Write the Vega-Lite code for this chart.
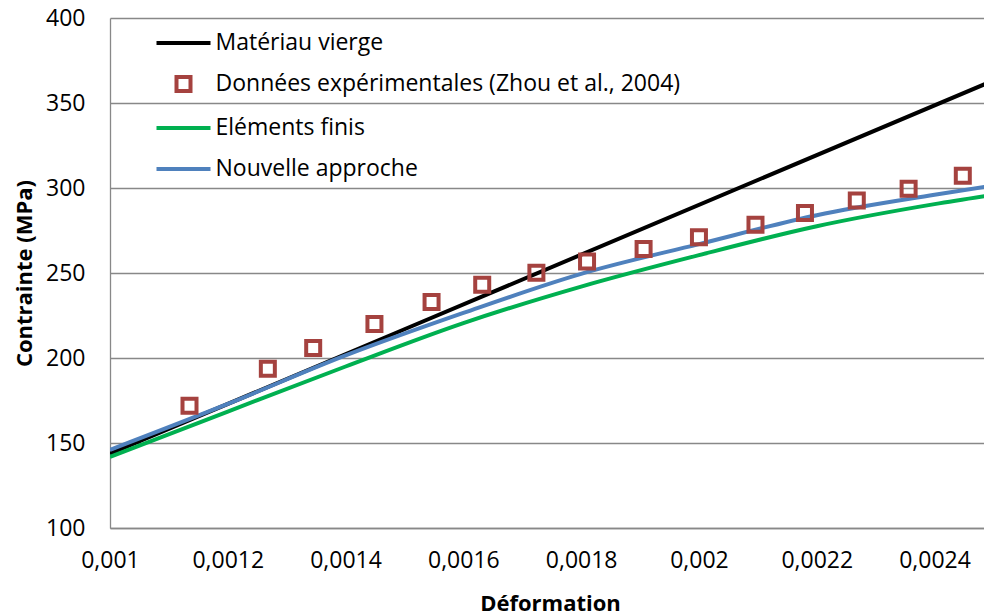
{
  "$schema": "https://vega.github.io/schema/vega-lite/v6.json",
  "width": 874,
  "height": 510,
  "autosize": "none",
  "padding": {"left": 110, "top": 18, "right": 0, "bottom": 88},
  "background": "white",
  "config": {
    "view": {"stroke": null},
    "font": "Open Sans"
  },
  "datasets": {
    "curves": [
      {"series": "Matériau vierge", "x": 0.001, "y": 143.7},
      {"series": "Matériau vierge", "x": 0.0015, "y": 216.9},
      {"series": "Matériau vierge", "x": 0.0025, "y": 363.2},
      {"series": "Eléments finis", "x": 0.001, "y": 141.8},
      {"series": "Eléments finis", "x": 0.0012, "y": 168.5},
      {"series": "Eléments finis", "x": 0.0014, "y": 195.0},
      {"series": "Eléments finis", "x": 0.0016, "y": 220.5},
      {"series": "Eléments finis", "x": 0.0018, "y": 242.0},
      {"series": "Eléments finis", "x": 0.002, "y": 260.5},
      {"series": "Eléments finis", "x": 0.0022, "y": 277.5},
      {"series": "Eléments finis", "x": 0.0024, "y": 290.5},
      {"series": "Eléments finis", "x": 0.0025, "y": 296.0},
      {"series": "Nouvelle approche", "x": 0.001, "y": 146.0},
      {"series": "Nouvelle approche", "x": 0.0012, "y": 173.0},
      {"series": "Nouvelle approche", "x": 0.0014, "y": 201.5},
      {"series": "Nouvelle approche", "x": 0.0016, "y": 226.5},
      {"series": "Nouvelle approche", "x": 0.0018, "y": 249.5},
      {"series": "Nouvelle approche", "x": 0.002, "y": 267.0},
      {"series": "Nouvelle approche", "x": 0.0022, "y": 284.0},
      {"series": "Nouvelle approche", "x": 0.0024, "y": 296.0},
      {"series": "Nouvelle approche", "x": 0.0025, "y": 301.5}
    ],
    "points": [
      {"series": "Données expérimentales (Zhou et al., 2004)", "x": 0.001135, "y": 171.9},
      {"series": "Données expérimentales (Zhou et al., 2004)", "x": 0.001268, "y": 193.7},
      {"series": "Données expérimentales (Zhou et al., 2004)", "x": 0.001345, "y": 205.9},
      {"series": "Données expérimentales (Zhou et al., 2004)", "x": 0.001449, "y": 220.0},
      {"series": "Données expérimentales (Zhou et al., 2004)", "x": 0.001546, "y": 233.0},
      {"series": "Données expérimentales (Zhou et al., 2004)", "x": 0.001632, "y": 243.1},
      {"series": "Données expérimentales (Zhou et al., 2004)", "x": 0.001724, "y": 250.2},
      {"series": "Données expérimentales (Zhou et al., 2004)", "x": 0.00181, "y": 256.8},
      {"series": "Données expérimentales (Zhou et al., 2004)", "x": 0.001906, "y": 264.1},
      {"series": "Données expérimentales (Zhou et al., 2004)", "x": 0.002, "y": 271.0},
      {"series": "Données expérimentales (Zhou et al., 2004)", "x": 0.002096, "y": 278.4},
      {"series": "Données expérimentales (Zhou et al., 2004)", "x": 0.00218, "y": 285.3},
      {"series": "Données expérimentales (Zhou et al., 2004)", "x": 0.002268, "y": 292.6},
      {"series": "Données expérimentales (Zhou et al., 2004)", "x": 0.002356, "y": 299.6},
      {"series": "Données expérimentales (Zhou et al., 2004)", "x": 0.002448, "y": 307.2}
    ]
  },
  "encoding": {
    "x": {
      "field": "x", "type": "quantitative",
      "scale": {"domain": [0.001, 0.002484], "nice": false, "zero": false},
      "axis": {
        "title": "Déformation",
        "values": [0.001, 0.0012, 0.0014, 0.0016, 0.0018, 0.002, 0.0022, 0.0024],
        "labelExpr": "replace(format(datum.value, '~g'), '.', ',')",
        "grid": false, "ticks": false,
        "domainColor": "#888888", "domainWidth": 1.3,
        "labelFontSize": 23, "labelColor": "#000000", "labelPadding": 21,
        "labelFont": "Open Sans", "labelOverlap": false, "labelFlush": false, "labelBound": false,
        "titleFontSize": 22, "titleFontWeight": "bold", "titleColor": "#000000",
        "titlePadding": 21, "titleFont": "Open Sans",
        "titleX": 440
      }
    },
    "y": {
      "field": "y", "type": "quantitative",
      "scale": {"domain": [100, 400], "nice": false, "zero": false},
      "axis": {
        "title": "Contrainte (MPa)",
        "values": [100, 150, 200, 250, 300, 350, 400],
        "grid": true, "gridColor": "#888888", "gridWidth": 1.3,
        "ticks": false,
        "domainColor": "#888888", "domainWidth": 1.3,
        "labelFontSize": 23, "labelColor": "#000000", "labelPadding": 25,
        "labelFont": "Open Sans", "labelFlush": false,
        "titleFontSize": 22, "titleFontWeight": "bold", "titleColor": "#000000",
        "titlePadding": 9, "titleFont": "Open Sans"
      }
    },
    "color": {
      "field": "series", "type": "nominal",
      "scale": {
        "domain": ["Matériau vierge", "Données expérimentales (Zhou et al., 2004)", "Eléments finis", "Nouvelle approche"],
        "range": ["#000000", "#a5423f", "#00b050", "#4f81bd"]
      },
      "legend": {
        "title": null,
        "orient": "none",
        "legendX": 44.5,
        "legendY": -4,
        "padding": 0,
        "labelFontSize": 23,
        "labelFont": "Open Sans",
        "labelColor": "#000000",
        "labelOffset": 3,
        "labelLimit": 1000,
        "rowPadding": 0,
        "symbolStrokeWidth": 4,
        "encode": {
          "symbols": {
            "update": {
              "shape": {"signal": "datum.value === 'Données expérimentales (Zhou et al., 2004)' ? 'square' : 'stroke'"},
              "size": {"signal": "datum.value === 'Données expérimentales (Zhou et al., 2004)' ? 196 : 2916"},
              "strokeWidth": {"value": 4},
              "fill": {"value": "transparent"},
              "stroke": {"scale": "color", "field": "value"},
              "opacity": {"value": 1}
            }
          }
        }
      }
    }
  },
  "layer": [
    {
      "data": {"name": "curves"},
      "mark": {"type": "line", "strokeWidth": 4, "clip": true, "interpolate": "monotone"}
    },
    {
      "data": {"name": "points"},
      "mark": {"type": "point", "shape": "square", "size": 196, "strokeWidth": 4, "filled": false, "opacity": 1}
    }
  ]
}
